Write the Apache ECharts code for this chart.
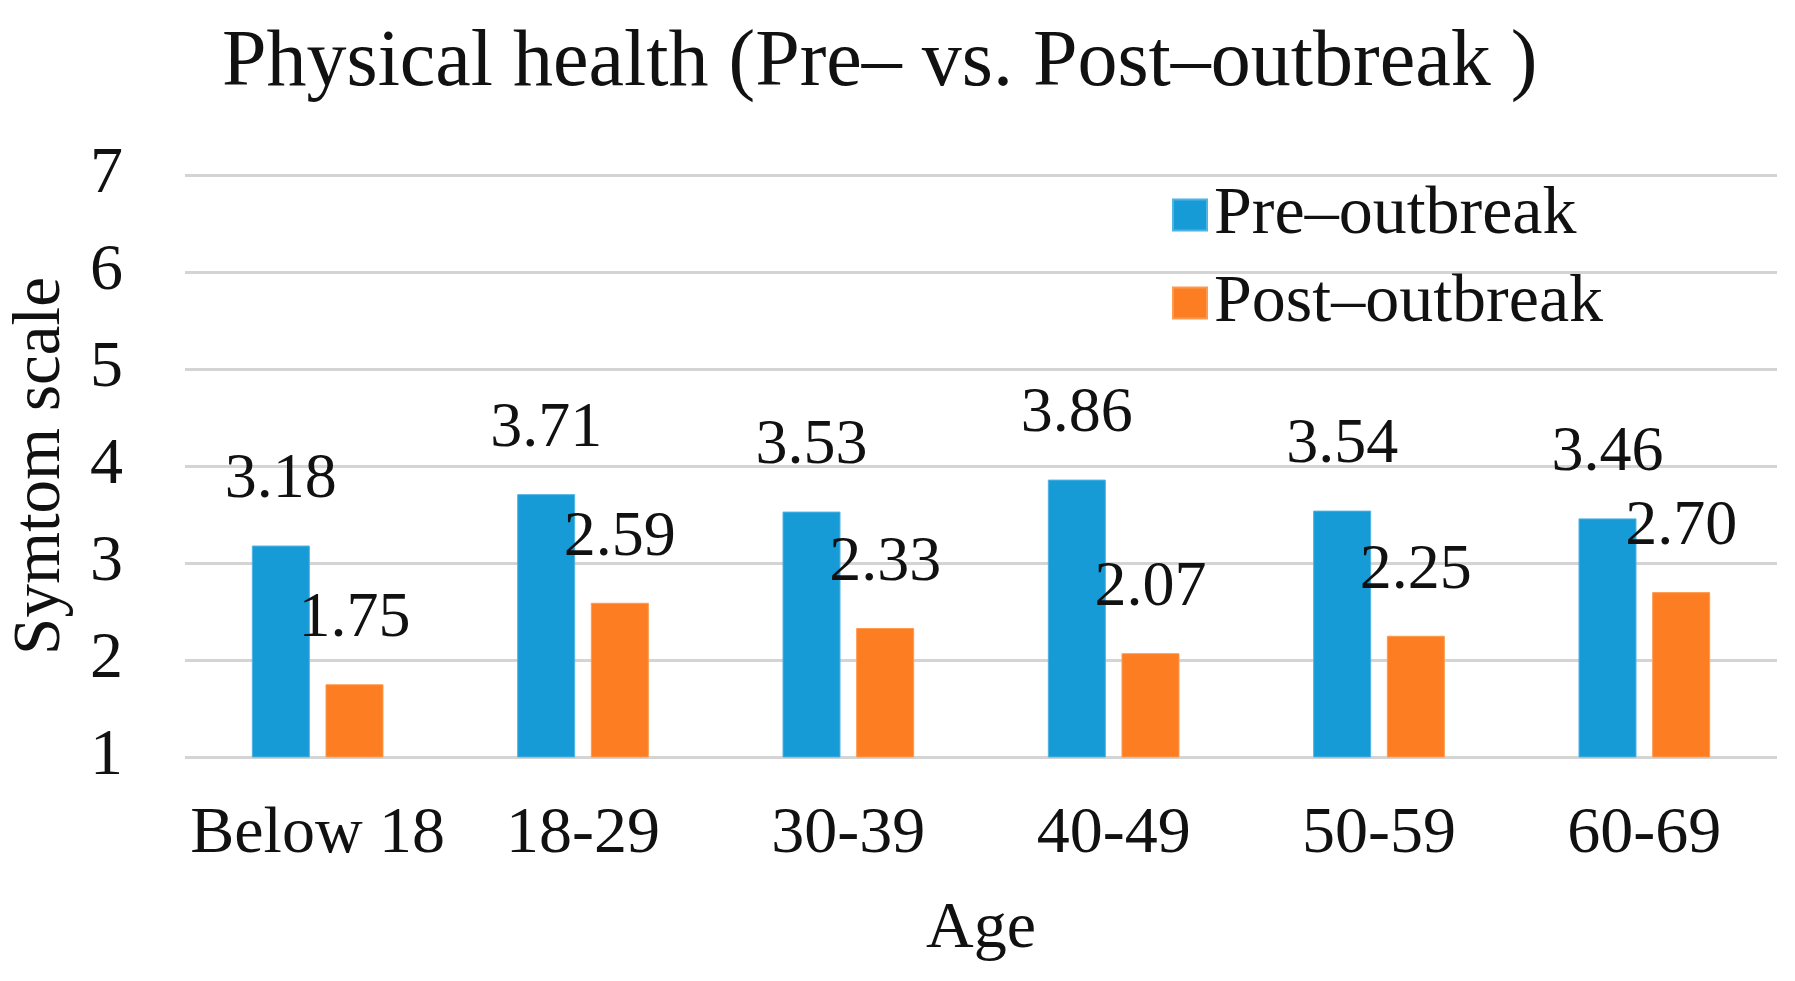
<!DOCTYPE html>
<html>
<head>
<meta charset="utf-8">
<script src="https://cdn.jsdelivr.net/npm/echarts@6/dist/echarts.min.js"></script>
<style>html,body{margin:0;padding:0;background:#fff;}#c{width:1795px;height:981px;}</style>
</head>
<body>
<div id="c"></div>
<script>
const categories = ['Below 18', '18-29', '30-39', '40-49', '50-59', '60-69'];
const preOutbreak = [3.18, 3.71, 3.53, 3.86, 3.54, 3.46];
const postOutbreak = [1.75, 2.59, 2.33, 2.07, 2.25, 2.70];
const seriesNames = ['Pre\u2013outbreak', 'Post\u2013outbreak'];
const titleText = 'Physical health (Pre\u2013 vs. Post\u2013outbreak )';

const FONT = 'Liberation Serif';
const chart = echarts.init(document.getElementById('c'));
const labelCfg = {
  show: true, position: 'top', distance: 33,
  fontFamily: FONT, fontSize: 64, color: '#111',
  formatter: p => p.value.toFixed(2)
};
chart.setOption({
  animation: false,
  backgroundColor: '#fff',
  title: {
    text: titleText, left: 222, top: 24, padding: 0,
    textStyle: { fontFamily: FONT, fontSize: 80, fontWeight: 'normal', color: '#111' }
  },
  legend: {
    orient: 'vertical', left: 1172, top: 181, padding: 0,
    itemWidth: 34, itemHeight: 31, itemGap: 20, icon: 'rect',
    textStyle: { fontFamily: FONT, fontSize: 68, color: '#111', lineHeight: 66, padding: [0, 0, 0, 2] },
    data: seriesNames
  },
  grid: { left: 184, right: 18, top: 175, bottom: 224, containLabel: false },
  xAxis: {
    type: 'category', data: categories,
    axisLine: { show: false }, axisTick: { show: false },
    axisLabel: { fontFamily: FONT, fontSize: 66, color: '#111', margin: 45, interval: 0 },
    name: 'Age', nameLocation: 'middle', nameGap: 140,
    nameTextStyle: { fontFamily: FONT, fontSize: 66, color: '#111' }
  },
  yAxis: {
    type: 'value', min: 1, max: 7, interval: 1,
    axisLine: { show: false }, axisTick: { show: false },
    axisLabel: { fontFamily: FONT, fontSize: 66, color: '#111', margin: 62 },
    splitLine: { lineStyle: { color: '#d4d4d4', width: 3 } },
    name: 'Symtom scale', nameLocation: 'middle', nameGap: 110,
    nameTextStyle: { fontFamily: FONT, fontSize: 67, color: '#111' }
  },
  series: [
    {
      name: seriesNames[0], type: 'bar', data: preOutbreak,
      barWidth: 58, barGap: '27%',
      itemStyle: { color: '#179bd7', borderColor: '#4fb3e3', borderWidth: 1 },
      label: labelCfg
    },
    {
      name: seriesNames[1], type: 'bar', data: postOutbreak,
      barWidth: 58,
      itemStyle: { color: '#fd7e22', borderColor: '#fe9a50', borderWidth: 1 },
      label: labelCfg
    }
  ]
});
</script>
</body>
</html>
